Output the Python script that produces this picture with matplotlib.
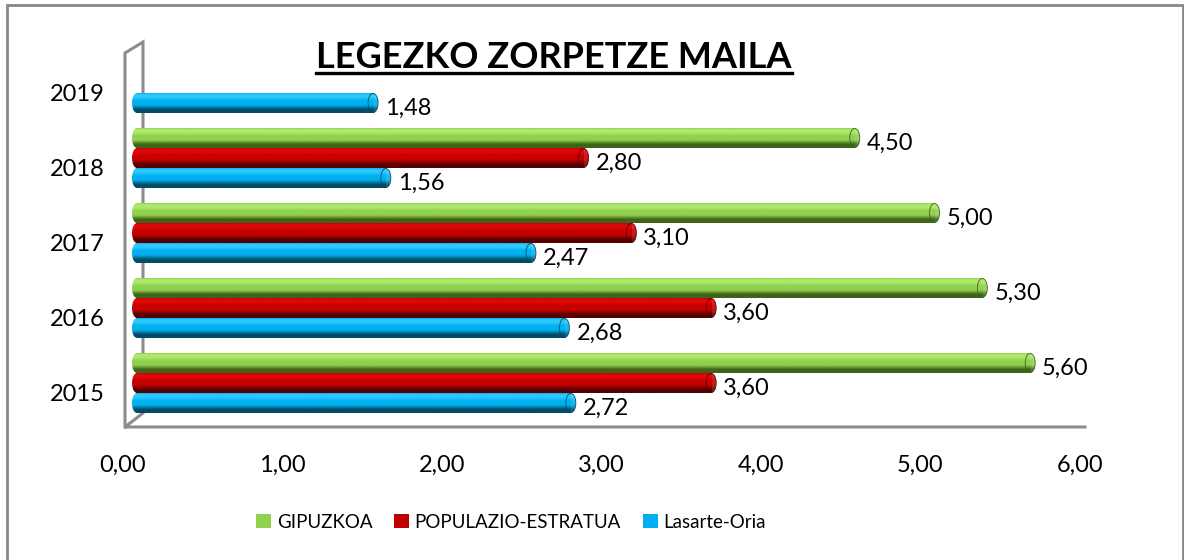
import numpy as np
import matplotlib.pyplot as plt
from matplotlib.colors import LinearSegmentedColormap
from matplotlib.patches import Patch, Rectangle, Ellipse
from matplotlib.lines import Line2D

plt.rcParams['font.family'] = ['Lato', 'DejaVu Sans']

years = ['2015', '2016', '2017', '2018', '2019']
series = ['GIPUZKOA', 'POPULAZIO-ESTRATUA', 'Lasarte-Oria']
gipuzkoa = [5.60, 5.30, 5.00, 4.50, None]
populazio = [3.60, 3.60, 3.10, 2.80, None]
lasarte = [2.72, 2.68, 2.47, 1.56, 1.48]
xticks = [0, 1, 2, 3, 4, 5, 6]

# (dark, mid, light) per series for the cylinder look
shades = [('#3f6419', '#92d050', '#aee96c'),
          ('#560000', '#c40000', '#e00808'),
          ('#004d68', '#00b0f0', '#2cc9ff')]
legend_colors = ['#92d050', '#c00000', '#00b0f0']

W, H = 1184, 560
fig = plt.figure(figsize=(W / 100, H / 100), dpi=100)


def fx(px):
    return px / W


def fy(py):
    return 1 - py / H


def box(x0, x1, y0, y1):
    return [fx(x0), fy(y1), fx(x1) - fx(x0), fy(y0) - fy(y1)]


# outer chart border and the 3d walls
gray = '#8c8c8c'
fig.patches.append(Rectangle((fx(7), fy(575)), fx(1183) - fx(7), fy(5) - fy(575),
                             transform=fig.transFigure, fill=False,
                             edgecolor='#888888', lw=2, zorder=-2))
wall_x = [125, 125, 143, 143, 125, 1085]
wall_y = [427, 53, 42, 413, 427, 427]
fig.lines.append(Line2D([fx(v) for v in wall_x], [fy(v) for v in wall_y],
                        transform=fig.transFigure, color=gray, lw=2.2,
                        solid_joinstyle='miter', zorder=-1))

# front plane: tick labels
ax_t = fig.add_axes(box(123, 1080, 42, 428))
ax_t.patch.set_visible(False)
ax_t.set_xlim(0, 6)
ax_t.set_ylim((392.5 - 428) / 75, (392.5 - 42) / 75)
ax_t.set_xticks(xticks)
ax_t.set_xticklabels([f'{v:.2f}'.replace('.', ',') for v in xticks], fontsize=17)
ax_t.set_yticks(range(len(years)))
ax_t.set_yticklabels(years, fontsize=17)
ax_t.tick_params(length=0, pad=0)
ax_t.tick_params(axis='x', pad=19)
ax_t.tick_params(axis='y', pad=13)
for s in ax_t.spines.values():
    s.set_visible(False)

# back plane: bars
x_left = -0.04
ax = fig.add_axes(box(137 + x_left * 159.5, 1094, 42, 428))
ax.patch.set_visible(False)
ax.axis('off')

h = 20 / 75
offsets = [h, 0, -h]
grad = np.linspace(0, 1, 64).reshape(-1, 1)
cap_w = 10 / 159.5
pos = np.arange(len(years))

for vals, off, (dark, mid, light) in zip([gipuzkoa, populazio, lasarte], offsets, shades):
    cmap = LinearSegmentedColormap.from_list(
        'cyl', [(0, dark), (0.18, dark), (0.4, mid), (0.62, mid), (0.8, light), (0.93, light), (1, mid)])
    keep = [k for k, v in enumerate(vals) if v is not None]
    vv = [vals[k] for k in keep]
    bars = ax.barh(pos[keep] + off, vv, height=h, color=mid, zorder=2)
    for rect, v in zip(bars, vv):
        y0 = rect.get_y()
        cy = y0 + h / 2
        # rounded start
        start = Ellipse((0, cy), cap_w, h, transform=ax.transData)
        im0 = ax.imshow(grad, extent=[-cap_w / 2, 0.01, y0, y0 + h], origin='lower',
                        aspect='auto', cmap=cmap, zorder=2)
        im0.set_clip_path(start)
        # shaded body
        im = ax.imshow(grad, extent=[0, v, y0, y0 + h], origin='lower',
                       aspect='auto', cmap=cmap, zorder=3)
        im.set_clip_path(rect)
        # end face
        end = Ellipse((v, cy), cap_w, h * 0.96, transform=ax.transData)
        im1 = ax.imshow(grad, extent=[v - cap_w / 2, v + cap_w / 2, y0, y0 + h], origin='lower',
                        aspect='auto', cmap=cmap, zorder=4, alpha=0.9)
        im1.set_clip_path(end)
        ax.add_patch(Ellipse((v, cy), cap_w, h * 0.96, facecolor='none',
                             edgecolor=dark, lw=0.6, zorder=5))
        ax.text(v + 0.075, cy - 0.07, f'{v:.2f}'.replace('.', ','),
                va='center', ha='left', fontsize=17, zorder=5)

ax.set_xlim(x_left, 6)
ax.set_ylim((383 - 428) / 75, (383 - 42) / 75)

# title with underline
title = fig.text(fx(554), fy(57), 'LEGEZKO ZORPETZE MAILA', ha='center', va='center',
                 fontsize=26, fontweight='bold')
fig.canvas.draw()
bb = title.get_window_extent()
fig.lines.append(Line2D([bb.x0 / W, bb.x1 / W], [fy(73), fy(73)],
                        transform=fig.transFigure, color='black', lw=2.4))

handles = [Patch(facecolor=c, edgecolor='none') for c in legend_colors]
fig.legend(handles, series, loc='center', bbox_to_anchor=(fx(511), fy(522)), ncol=3,
           frameon=False, fontsize=13.5, handlelength=0.8, handleheight=0.8,
           handletextpad=0.3, columnspacing=1.15)

fig.savefig('out.png', dpi=100)
